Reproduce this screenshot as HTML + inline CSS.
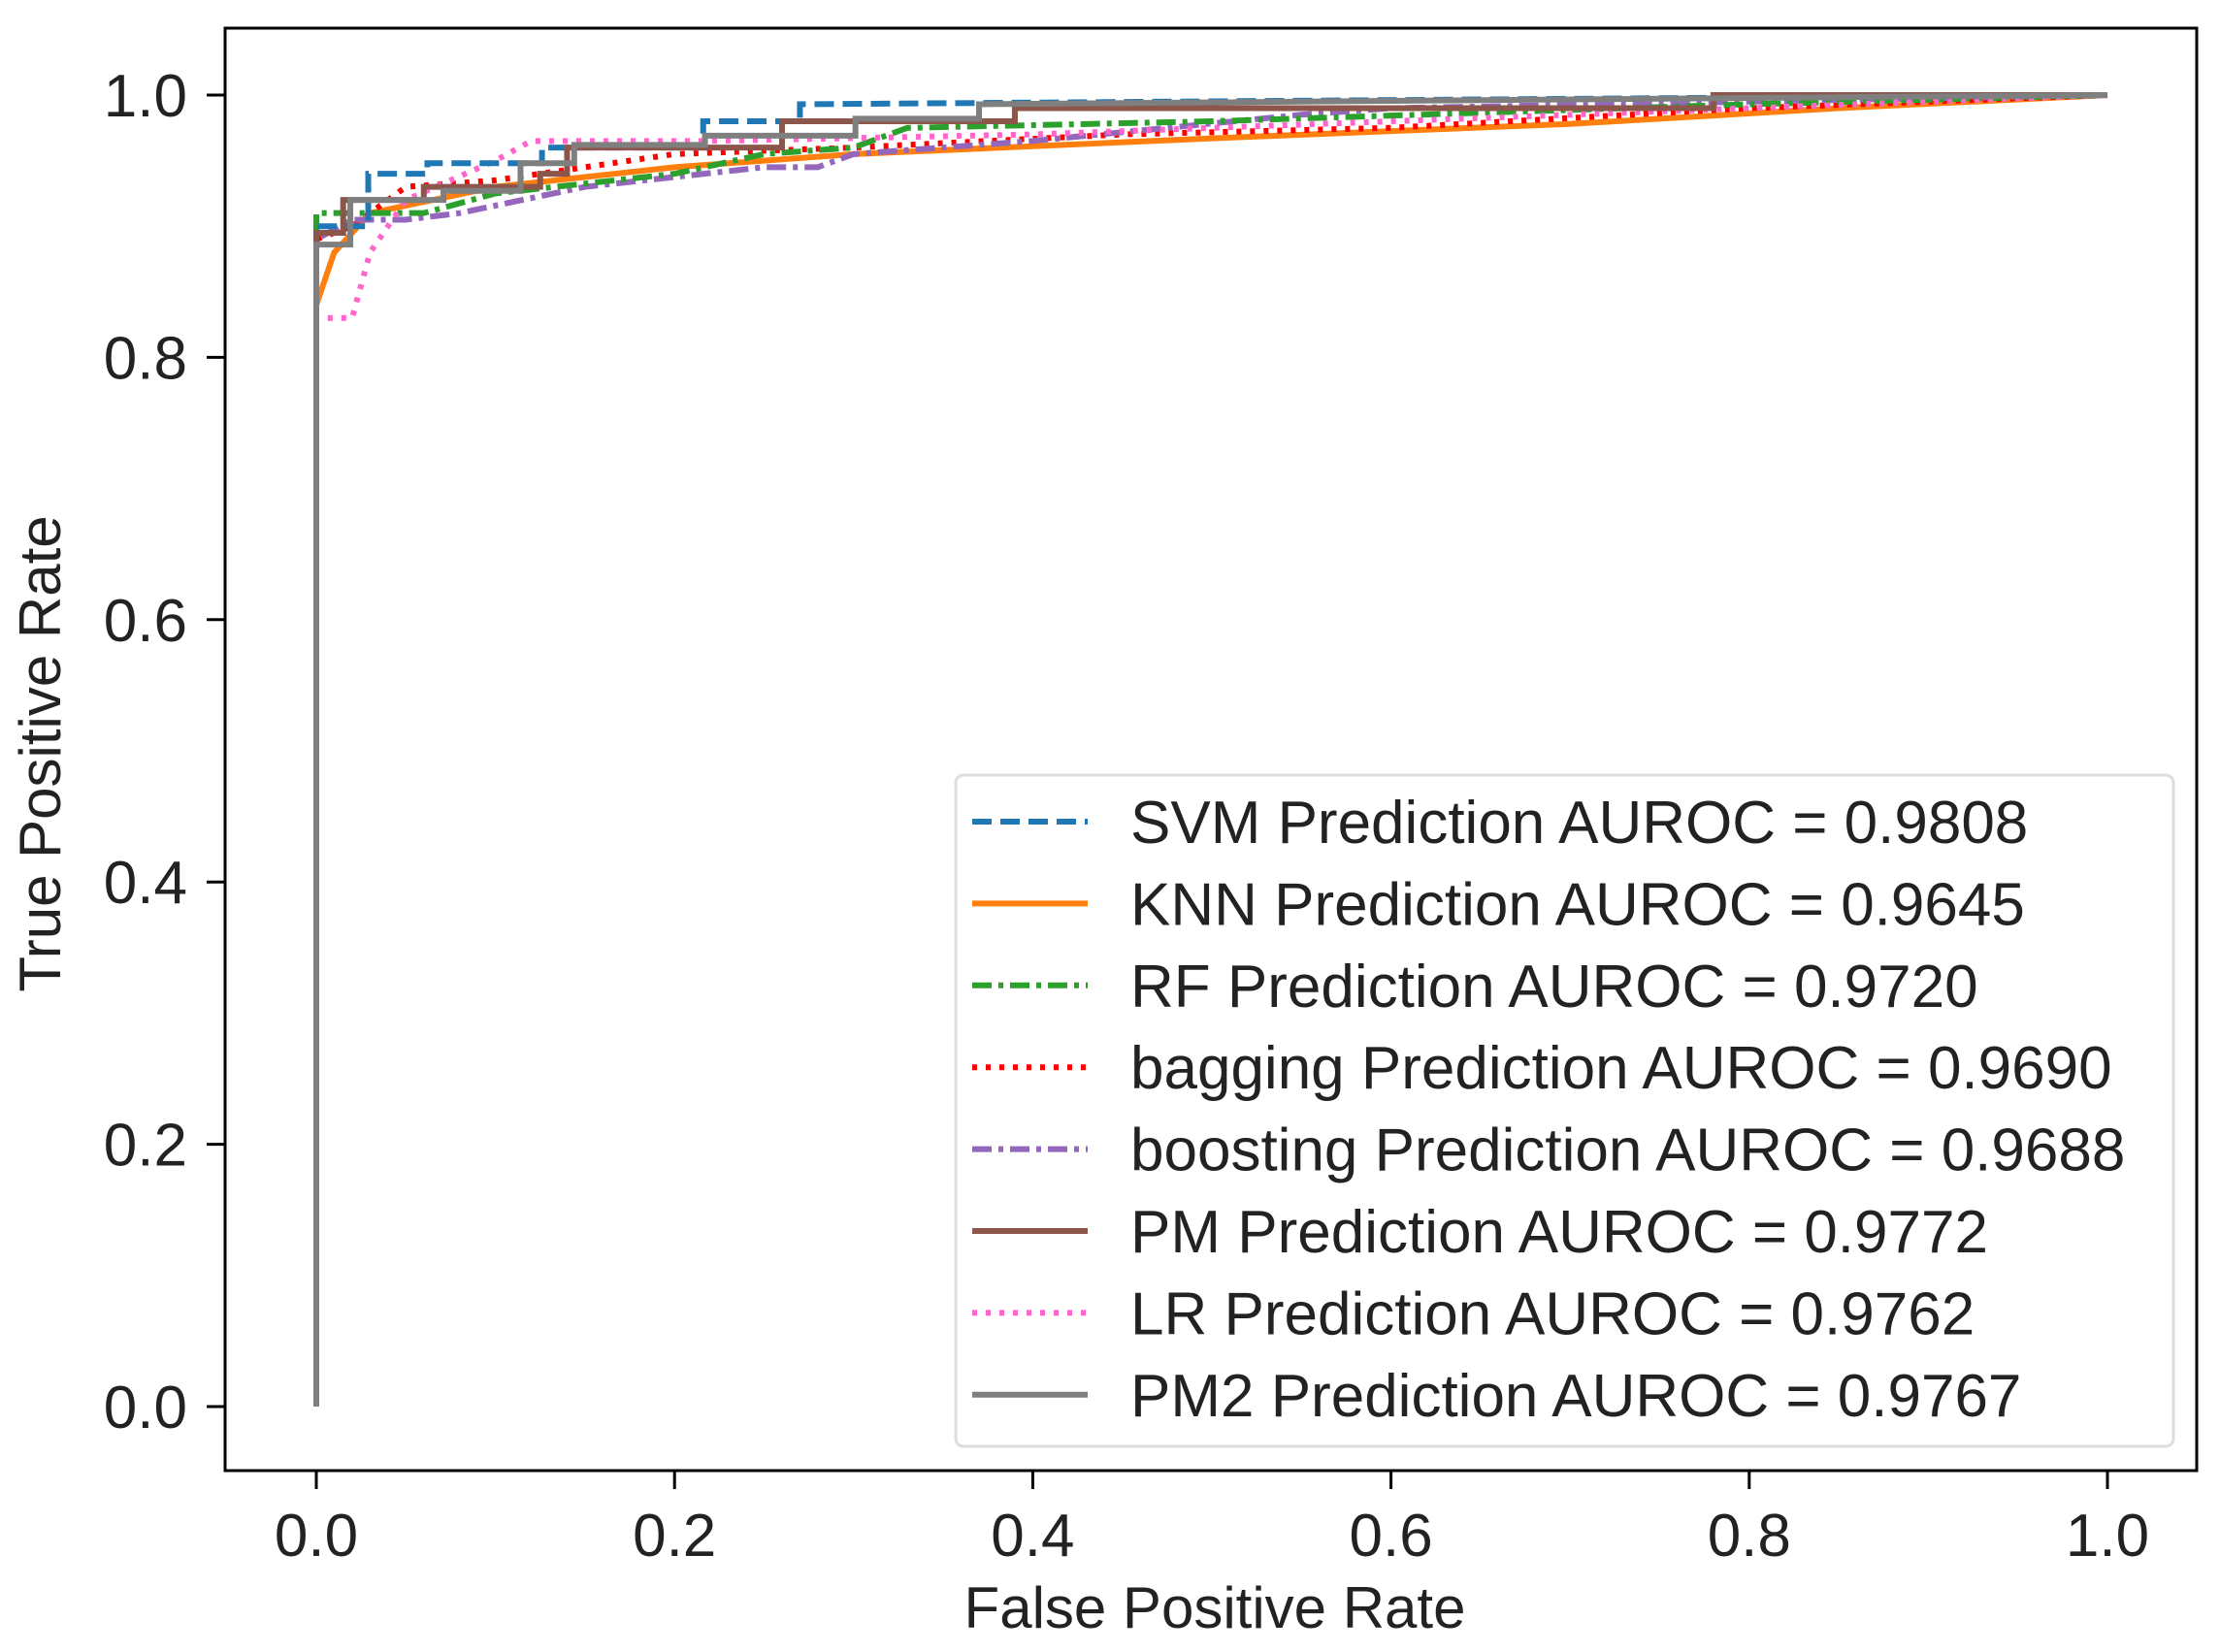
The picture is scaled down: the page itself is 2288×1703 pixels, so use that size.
<!DOCTYPE html>
<html><head><meta charset="utf-8"><style>
html,body{margin:0;padding:0;background:#fff;}
svg{display:block;font-family:"Liberation Sans",sans-serif;}
</style></head><body>
<svg id="chart" width="2288" height="1703" viewBox="0 0 2288 1703">
<rect x="0" y="0" width="2288" height="1703" fill="#fff"/>
<g id="series"></g>
<rect x="232" y="29" width="2032" height="1487" fill="none" stroke="#000" stroke-width="3"/>
<g id="axes"></g>
<text x="1252" y="1678" font-size="60" text-anchor="middle" fill="#222">False Positive Rate</text>
<text transform="translate(62,777) rotate(-90)" font-size="60" text-anchor="middle" fill="#222">True Positive Rate</text>
<g id="legend"></g>
</svg>
<script>
const xTicks=[0,0.2,0.4,0.6,0.8,1.0];
const yTicks=[0,0.2,0.4,0.6,0.8,1.0];
const tickLabels=["0.0","0.2","0.4","0.6","0.8","1.0"];
const seriesNames=["SVM Prediction AUROC = 0.9808","KNN Prediction AUROC = 0.9645","RF Prediction AUROC = 0.9720","bagging Prediction AUROC = 0.9690","boosting Prediction AUROC = 0.9688","PM Prediction AUROC = 0.9772","LR Prediction AUROC = 0.9762","PM2 Prediction AUROC = 0.9767"];
const svmFpr=[0,0,0.029,0.029,0.062,0.062,0.126,0.126,0.216,0.216,0.27,0.27,1];
const svmTpr=[0,0.9,0.9,0.94,0.94,0.948,0.948,0.96,0.96,0.98,0.98,0.993,1];
const knnFpr=[0,0,0.01,0.03,0.1,0.2,0.3,0.5,0.7,0.85,1];
const knnTpr=[0,0.84,0.88,0.91,0.93,0.945,0.955,0.967,0.978,0.99,1];
const rfFpr=[0,0,0.04,0.06,0.1,0.2,0.25,0.3,0.33,0.5,0.8,1];
const rfTpr=[0,0.91,0.91,0.91,0.925,0.94,0.955,0.96,0.975,0.98,0.993,1];
const bagFpr=[0,0,0.02,0.05,0.1,0.2,0.3,0.45,0.6,0.8,1];
const bagTpr=[0,0.89,0.9,0.93,0.935,0.955,0.96,0.97,0.975,0.99,1];
const booFpr=[0,0,0.02,0.05,0.08,0.15,0.25,0.28,0.3,0.4,0.55,0.6,0.8,1];
const booTpr=[0,0.89,0.905,0.905,0.91,0.93,0.945,0.945,0.955,0.965,0.985,0.99,0.995,1];
const pmFpr=[0,0,0.015,0.015,0.06,0.06,0.125,0.125,0.14,0.14,0.26,0.26,0.39,0.39,0.78,0.78,1];
const pmTpr=[0,0.895,0.895,0.92,0.92,0.93,0.93,0.94,0.94,0.96,0.96,0.98,0.98,0.99,0.99,1,1];
const lrFpr=[0,0,0.02,0.03,0.05,0.1,0.12,0.22,0.4,0.6,0.8,1];
const lrTpr=[0,0.83,0.83,0.88,0.92,0.95,0.965,0.965,0.97,0.98,0.99,1];
const pm2Fpr=[0,0,0.019,0.019,0.071,0.071,0.114,0.114,0.144,0.144,0.217,0.217,0.301,0.301,0.37,0.37,1];
const pm2Tpr=[0,0.886,0.886,0.92,0.92,0.927,0.927,0.948,0.948,0.962,0.962,0.969,0.969,0.982,0.982,0.993,1];

const NS="http://www.w3.org/2000/svg";
const xs=v=>326+v*1846;
const ys=v=>1450-v*1352;
const styles=[
 {c:"#1f77b4",d:"20,9"},{c:"#ff7f0e",d:""},{c:"#2ca02c",d:"20,7,5,7"},{c:"#ff0000",d:"5,9"},
 {c:"#9467bd",d:"20,7,5,7"},{c:"#8c564b",d:""},{c:"#ff66cc",d:"5,9"},{c:"#7f7f7f",d:""}];
const data=[[svmFpr,svmTpr],[knnFpr,knnTpr],[rfFpr,rfTpr],[bagFpr,bagTpr],[booFpr,booTpr],[pmFpr,pmTpr],[lrFpr,lrTpr],[pm2Fpr,pm2Tpr]];
const sg=document.getElementById('series');
const order=[1,3,4,2,6,0,5,7];
order.forEach(i=>{
 const [f,t]=data[i];
 const p=document.createElementNS(NS,'polyline');
 p.setAttribute('points',f.map((v,k)=>xs(v)+','+ys(t[k])).join(' '));
 p.setAttribute('fill','none');p.setAttribute('stroke',styles[i].c);p.setAttribute('stroke-width','6');
 if(styles[i].d)p.setAttribute('stroke-dasharray',styles[i].d);
 
 
 sg.appendChild(p);
});
const ax=document.getElementById('axes');
xTicks.forEach((v,i)=>{
 const l=document.createElementNS(NS,'line');
 l.setAttribute('x1',xs(v));l.setAttribute('x2',xs(v));l.setAttribute('y1',1516);l.setAttribute('y2',1535);
 l.setAttribute('stroke','#000');l.setAttribute('stroke-width','3');
 
 
 ax.appendChild(l);
 const t=document.createElementNS(NS,'text');
 t.setAttribute('x',xs(v));t.setAttribute('y',1604);t.setAttribute('font-size','62');t.setAttribute('text-anchor','middle');t.setAttribute('fill','#222');
 t.textContent=tickLabels[i];
 
 
 ax.appendChild(t);
});
yTicks.forEach((v,i)=>{
 const l=document.createElementNS(NS,'line');
 l.setAttribute('x1',213);l.setAttribute('x2',232);l.setAttribute('y1',ys(v));l.setAttribute('y2',ys(v));
 l.setAttribute('stroke','#000');l.setAttribute('stroke-width','3');
 
 
 ax.appendChild(l);
 const t=document.createElementNS(NS,'text');
 t.setAttribute('x',193);t.setAttribute('y',ys(v)+22);t.setAttribute('font-size','62');t.setAttribute('text-anchor','end');t.setAttribute('fill','#222');
 t.textContent=tickLabels[i];
 
 
 ax.appendChild(t);
});
const lg=document.getElementById('legend');
const box=document.createElementNS(NS,'rect');
box.setAttribute('x',985);box.setAttribute('y',799);box.setAttribute('width',1255);box.setAttribute('height',692);box.setAttribute('rx',8);
box.setAttribute('fill','#fff');box.setAttribute('fill-opacity','0.85');box.setAttribute('stroke','#ddd');box.setAttribute('stroke-width','3');


lg.appendChild(box);
seriesNames.forEach((n,i)=>{
 const y=847+i*84.4;
 const l=document.createElementNS(NS,'line');
 l.setAttribute('x1',1002);l.setAttribute('x2',1121);l.setAttribute('y1',y);l.setAttribute('y2',y);
 l.setAttribute('stroke',styles[i].c);l.setAttribute('stroke-width','6');
 if(styles[i].d)l.setAttribute('stroke-dasharray',styles[i].d);
 
 
 lg.appendChild(l);
 const t=document.createElementNS(NS,'text');
 t.setAttribute('x',1165);t.setAttribute('y',y+22);t.setAttribute('font-size','62');t.setAttribute('fill','#222');
 t.textContent=n;
 
 
 lg.appendChild(t);
});
</script>
</body></html>
